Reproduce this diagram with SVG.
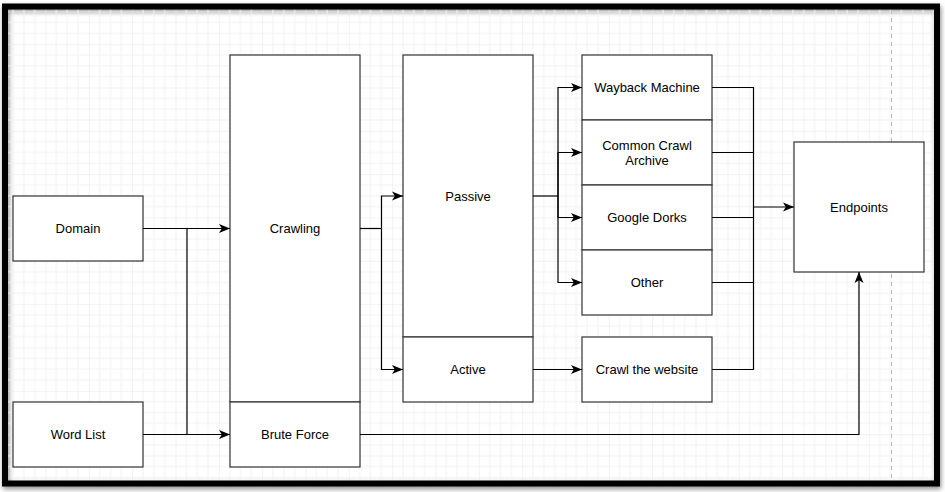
<svg xmlns="http://www.w3.org/2000/svg" width="945" height="492" viewBox="0 0 945 492">
<defs>
<style>
.box{fill:#fff;stroke:#333;stroke-width:1.2}
.lbl{font-family:"Liberation Sans",Arial,sans-serif;font-size:13px;fill:#000;text-anchor:middle;dominant-baseline:central}
.con{fill:none;stroke:#000;stroke-width:1.2}
.arr{fill:none;stroke:#000;stroke-width:1.2;marker-end:url(#ah)}
</style>
<marker id="ah" markerUnits="userSpaceOnUse" markerWidth="12" markerHeight="10" refX="11" refY="5" orient="auto">
<path d="M0,0.5 L11,5 L0,9.5 L2.8,5 Z" fill="#000"/>
</marker>
<pattern id="grid" patternUnits="userSpaceOnUse" x="2.17" y="0.85" width="43.33" height="43.33">
<path d="M10.83,0V43.33M21.67,0V43.33M32.5,0V43.33M0,10.83H43.33M0,21.67H43.33M0,32.5H43.33" stroke="#f2f2f2" stroke-width="1" fill="none"/>
<path d="M0,0V43.33M0,0H43.33" stroke="#e6e6e6" stroke-width="1" fill="none"/>
</pattern>
<filter id="sh" x="-5%" y="-5%" width="110%" height="115%">
<feGaussianBlur stdDeviation="2.5"/>
</filter>
</defs>
<rect x="0" y="0" width="945" height="492" fill="#fff"/>
<rect x="6" y="9" width="932" height="477" fill="none" stroke="#888" stroke-width="6" filter="url(#sh)"/>
<rect x="8" y="9.5" width="926" height="471" fill="url(#grid)"/>
<line x1="891.5" y1="10" x2="891.5" y2="480" stroke="#bbb" stroke-width="1" stroke-dasharray="4,4"/>
<rect x="5" y="6.5" width="932" height="477" fill="none" stroke="#000" stroke-width="6"/>

<g id="domain"><rect class="box" x="13" y="196" width="130" height="65"/><text class="lbl" x="78" y="228.5">Domain</text></g>
<g id="wordlist"><rect class="box" x="13" y="402" width="130" height="65"/><text class="lbl" x="78" y="434.5">Word List</text></g>
<g id="crawling"><rect class="box" x="230" y="55" width="130" height="347"/><text class="lbl" x="295" y="228.5">Crawling</text></g>
<g id="bruteforce"><rect class="box" x="230" y="402" width="130" height="65"/><text class="lbl" x="295" y="434.5">Brute Force</text></g>
<g id="passive"><rect class="box" x="403" y="55" width="130" height="282"/><text class="lbl" x="468" y="196">Passive</text></g>
<g id="active"><rect class="box" x="403" y="337" width="130" height="65"/><text class="lbl" x="468" y="369.5">Active</text></g>
<g id="wayback"><rect class="box" x="582" y="55" width="130" height="65"/><text class="lbl" x="647" y="87.5">Wayback Machine</text></g>
<g id="commoncrawl"><rect class="box" x="582" y="120" width="130" height="65"/><text class="lbl" x="647" y="145.5">Common Crawl</text><text class="lbl" x="647" y="160">Archive</text></g>
<g id="googledorks"><rect class="box" x="582" y="185" width="130" height="65"/><text class="lbl" x="647" y="217.5">Google Dorks</text></g>
<g id="other"><rect class="box" x="582" y="250" width="130" height="65"/><text class="lbl" x="647" y="282.5">Other</text></g>
<g id="crawlsite"><rect class="box" x="582" y="337" width="130" height="65"/><text class="lbl" x="647" y="369.5">Crawl the website</text></g>
<g id="endpoints"><rect class="box" x="794" y="142" width="130" height="130"/><text class="lbl" x="859" y="207">Endpoints</text></g>

<g id="connectors">
<path class="arr" d="M143,228.5H230"/>
<path class="arr" d="M143,434.5H230"/>
<path class="con" d="M187,228.5V434.5"/>
<path class="con" d="M360,228.5H381.5"/>
<path class="arr" d="M381.5,228.5V196H403"/>
<path class="arr" d="M381.5,228.5V369.5H403"/>
<path class="con" d="M533,196H558"/>
<path class="arr" d="M558,196V87.5H582"/>
<path class="arr" d="M558,196V152.5H582"/>
<path class="arr" d="M558,196V217.5H582"/>
<path class="arr" d="M558,196V282.5H582"/>
<path class="arr" d="M533,369.5H582"/>
<path class="con" d="M712,87.5H753.5V369.5H712"/>
<path class="con" d="M712,152.5H753.5"/>
<path class="con" d="M712,217.5H753.5"/>
<path class="con" d="M712,282.5H753.5"/>
<path class="arr" d="M753.5,207H794"/>
<path class="arr" d="M360,434.5H859V272"/>
</g>
</svg>
